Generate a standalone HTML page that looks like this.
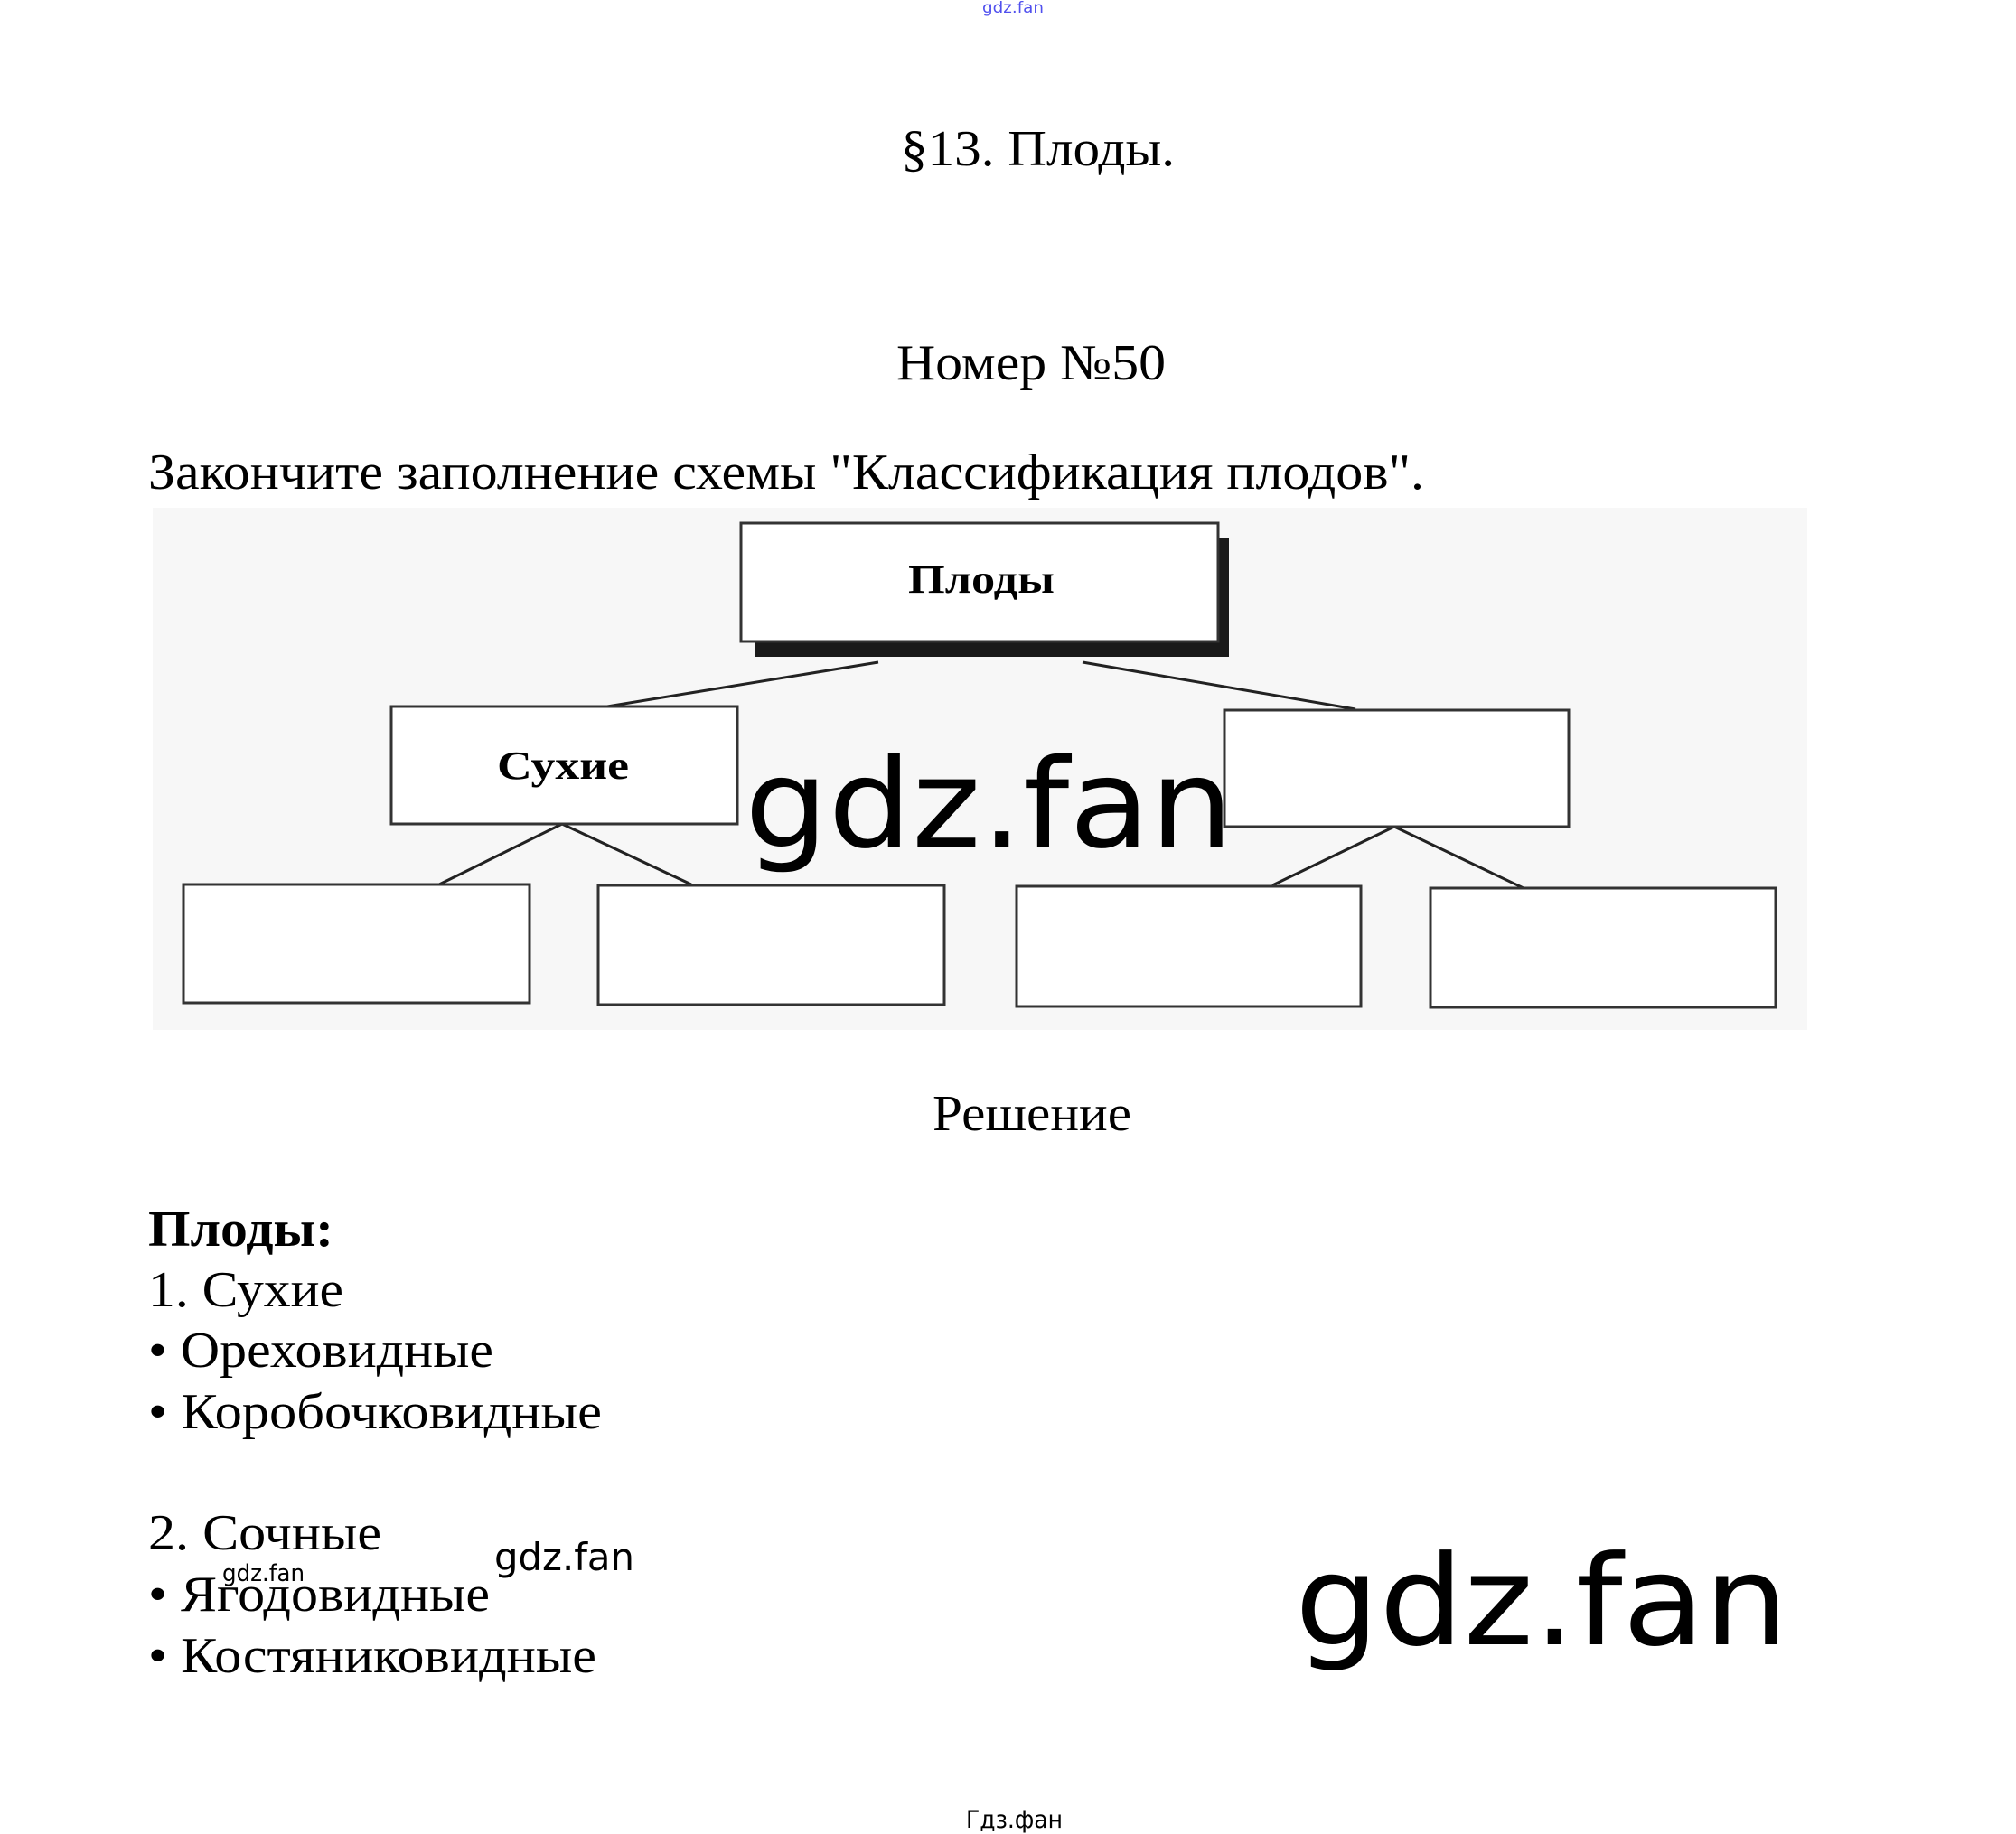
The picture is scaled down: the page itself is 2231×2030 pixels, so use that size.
<!DOCTYPE html>
<html><head><meta charset="utf-8"><style>
html,body{margin:0;padding:0;background:#fff;}
svg{display:block;}
.s{font-family:"Liberation Serif","Noto Serif CJK SC",serif;fill:#000;}
.w{font-family:"DejaVu Sans","Liberation Sans",sans-serif;fill:#000;}
</style></head><body>
<svg width="2231" height="2030" viewBox="0 0 2231 2030" xmlns="http://www.w3.org/2000/svg">
<rect width="2231" height="2030" fill="#fff"/>
<text x="1087" y="14" class="w" font-size="17" style="fill:#5050ee" textLength="68" lengthAdjust="spacingAndGlyphs">gdz.fan</text>
<text x="997" y="183" class="s" font-size="56" textLength="303" lengthAdjust="spacingAndGlyphs">§13. Плоды.</text>
<text x="992" y="420" class="s" font-size="56" textLength="298" lengthAdjust="spacingAndGlyphs">Номер №50</text>
<text x="164" y="541" class="s" font-size="56" textLength="1412" lengthAdjust="spacingAndGlyphs">Закончите заполнение схемы "Классификация плодов".</text>

<rect x="169" y="562" width="1831" height="578" fill="#f7f7f7"/>
<g stroke="#222" stroke-width="3" fill="none">
<line x1="972" y1="733" x2="672" y2="782"/>
<line x1="1198" y1="733" x2="1500" y2="785"/>
<line x1="622" y1="912" x2="486" y2="979"/>
<line x1="622" y1="912" x2="765" y2="979"/>
<line x1="1543" y1="915" x2="1408" y2="980"/>
<line x1="1543" y1="915" x2="1686" y2="983"/>
</g>
<rect x="836" y="596" width="524" height="131" fill="#1a1a1a"/>
<g stroke="#333" stroke-width="3" fill="#fff">
<rect x="820" y="579" width="528" height="131"/>
<rect x="433" y="782" width="383" height="130"/>
<rect x="1355" y="786" width="381" height="129"/>
<rect x="203" y="979" width="383" height="131"/>
<rect x="662" y="980" width="383" height="132"/>
<rect x="1125" y="981" width="381" height="133"/>
<rect x="1583" y="983" width="382" height="132"/>
</g>
<text x="1086" y="656" class="s" font-size="44" font-weight="bold" text-anchor="middle" textLength="162" lengthAdjust="spacingAndGlyphs">Плоды</text>
<text x="623" y="862" class="s" font-size="44" font-weight="bold" text-anchor="middle" textLength="146" lengthAdjust="spacingAndGlyphs">Сухие</text>

<text x="824" y="937" class="w" font-size="136" textLength="541" lengthAdjust="spacingAndGlyphs">gdz.fan</text>

<text x="1032" y="1251" class="s" font-size="56" textLength="220" lengthAdjust="spacingAndGlyphs">Решение</text>
<text x="164" y="1379" class="s" font-size="56" font-weight="bold" textLength="205" lengthAdjust="spacingAndGlyphs">Плоды:</text>
<text x="164" y="1446" class="s" font-size="56" textLength="216" lengthAdjust="spacingAndGlyphs">1. Сухие</text>
<text x="164" y="1513" class="s" font-size="56" textLength="382" lengthAdjust="spacingAndGlyphs">• Ореховидные</text>
<text x="164" y="1581" class="s" font-size="56" textLength="502" lengthAdjust="spacingAndGlyphs">• Коробочковидные</text>
<text x="164" y="1715" class="s" font-size="56" textLength="258" lengthAdjust="spacingAndGlyphs">2. Сочные</text>
<text x="164" y="1783" class="s" font-size="56" textLength="378" lengthAdjust="spacingAndGlyphs">• Ягодовидные</text>
<text x="164" y="1851" class="s" font-size="56" textLength="496" lengthAdjust="spacingAndGlyphs">• Костяниковидные</text>

<text x="547" y="1738" class="w" font-size="42" textLength="155" lengthAdjust="spacingAndGlyphs">gdz.fan</text>
<text x="246" y="1750" class="w" font-size="26" textLength="91" lengthAdjust="spacingAndGlyphs">gdz.fan</text>
<text x="1433" y="1820" class="w" font-size="138" textLength="546" lengthAdjust="spacingAndGlyphs">gdz.fan</text>
<text x="1069" y="2023" class="w" font-size="27" textLength="107" lengthAdjust="spacingAndGlyphs">Гдз.фан</text>
</svg>
</body></html>
